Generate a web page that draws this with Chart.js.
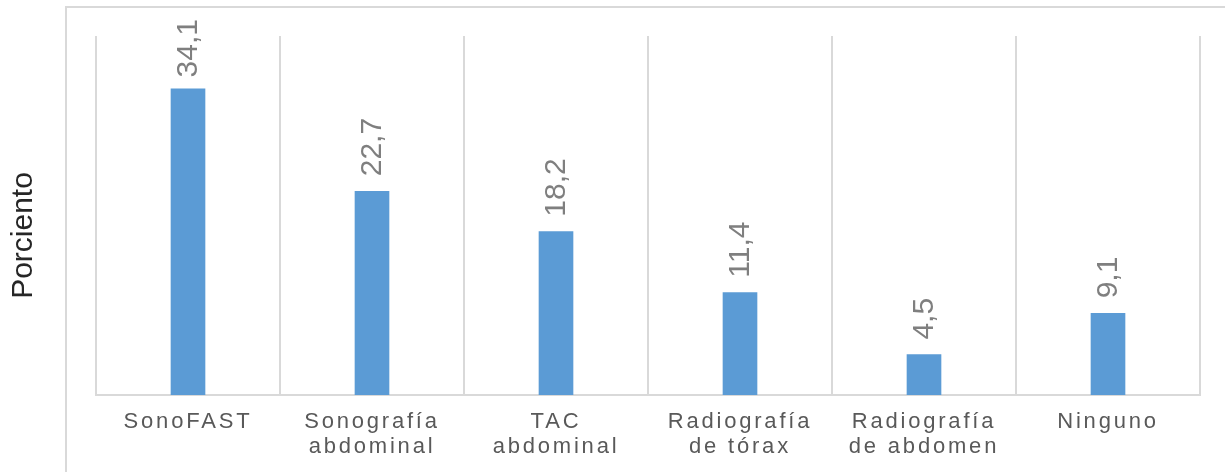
<!DOCTYPE html>
<html>
<head>
<meta charset="utf-8">
<script src="https://cdn.jsdelivr.net/npm/chart.js@4/dist/chart.umd.min.js"></script>
<style>
  html, body { margin: 0; padding: 0; background: #fff; }
  #wrap { position: relative; width: 1225px; height: 472px; overflow: hidden; }
  #frame { position: absolute; left: 65px; top: 6px; width: 1300px; height: 600px;
           border-left: 2px solid #d9d9d9; border-top: 2px solid #d9d9d9; }
  canvas { position: absolute; left: 0; top: 0; }
</style>
</head>
<body>
<div id="wrap">
  <div id="frame"></div>
  <canvas id="c" width="1225" height="472"></canvas>
</div>
<script>
// Estudios de imagen realizados (porcentaje de pacientes)
const categories = [
  'SonoFAST',
  ['Sonografía', 'abdominal'],
  ['TAC', 'abdominal'],
  ['Radiografía', 'de tórax'],
  ['Radiografía', 'de abdomen'],
  'Ninguno'
];
const porcentajes = [34.1, 22.7, 18.2, 11.4, 4.5, 9.1];
const yTitle = 'Porciento';

const FONT = '"Liberation Sans", Arial, Helvetica, sans-serif';

// Spaced-out letters for the category labels
const letterSpacingPlugin = {
  id: 'letterSpacing',
  beforeDraw(chart) { chart.ctx.letterSpacing = '2.8px'; },
  afterDraw(chart) { chart.ctx.letterSpacing = '0px'; }
};

// Rotated value labels above each bar (kept inside the top margin), plus the vertical axis title
const valueLabels = {
  id: 'valueLabels',
  afterDatasetsDraw(chart) {
    const ctx = chart.ctx;
    const meta = chart.getDatasetMeta(0);
    ctx.save();
    ctx.letterSpacing = '0px';
    ctx.font = '30px ' + FONT;
    ctx.fillStyle = '#7f7f7f';
    ctx.textAlign = 'left';
    ctx.textBaseline = 'middle';
    const gap = 15;
    const minTop = 19;
    meta.data.forEach((bar, i) => {
      const txt = porcentajes[i].toFixed(1).replace('.', ',');
      const len = ctx.measureText(txt).width;
      let start = bar.y - gap;
      if (start - len < minTop) start = minTop + len;
      ctx.save();
      ctx.translate(bar.x + 1, start);
      ctx.rotate(-Math.PI / 2);
      ctx.fillText(txt, 0, 0);
      ctx.restore();
    });
    // axis title
    ctx.font = '30px ' + FONT;
    ctx.fillStyle = '#262626';
    ctx.textAlign = 'center';
    ctx.translate(24, (chart.chartArea.top + chart.chartArea.bottom) / 2 + 20);
    ctx.rotate(-Math.PI / 2);
    ctx.fillText(yTitle, 0, 0);
    ctx.restore();
  }
};

new Chart(document.getElementById('c'), {
  type: 'bar',
  data: {
    labels: categories,
    datasets: [{
      data: porcentajes,
      backgroundColor: '#5b9bd5',
      borderWidth: 0,
      barThickness: 34
    }]
  },
  options: {
    responsive: false,
    animation: false,
    devicePixelRatio: 1,
    layout: { padding: { left: 96, right: 25, top: 36, bottom: 0 } },
    plugins: { legend: { display: false }, tooltip: { enabled: false } },
    scales: {
      x: {
        grid: { display: true, offset: true, color: '#d9d9d9', lineWidth: 2, drawTicks: false },
        border: { display: true, color: '#d9d9d9', width: 2 },
        ticks: {
          color: '#595959',
          font: { family: FONT, size: 22, lineHeight: 1.136 },
          padding: 14,
          maxRotation: 0,
          autoSkip: false
        },
        afterFit(scale) { scale.height = 77; }
      },
      y: {
        display: false,
        min: 0,
        max: 40
      }
    }
  },
  plugins: [letterSpacingPlugin, valueLabels]
});
</script>
</body>
</html>
